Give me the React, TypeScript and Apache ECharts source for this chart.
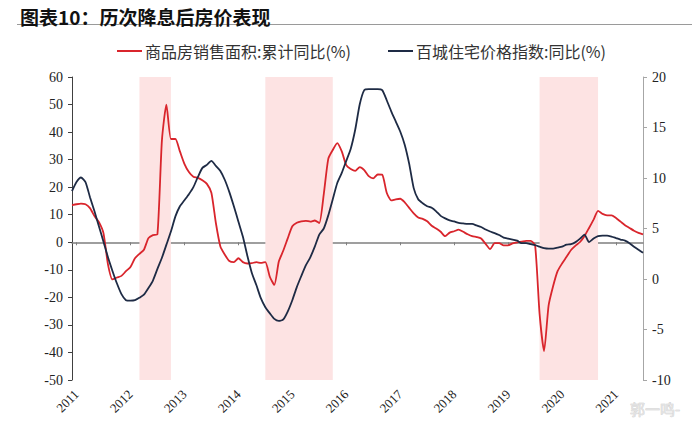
import React, { useEffect, useRef } from "react";
import * as echarts from "echarts";

const TITLE = "图表10：历次降息后房价表现";
const SERIES_NAMES = ["商品房销售面积:累计同比(%)", "百城住宅价格指数:同比(%)"];
const START_YEAR = 2010;
const START_MONTH = 12;

// 商品房销售面积:累计同比(%) — left axis, monthly from 2010-12
const salesArea = [
  13.5, 13.8, 14, 13.8, 12.4, 9.5, 7.3, 3.3, -8, -13.5,
  -12.8, -12.2, -10.5, -9, -5.8, -4.2, -2.7, 1.5, 2.6, 2.9,
  37, 50, 37.5, 37.5, 33, 28.5, 25.5, 23.8, 23.4, 22.5,
  21.2, 18, 7, -1.5, -4.5, -6.8, -7.2, -5.8, -7.2, -7.7,
  -7.6, -7.2, -7.5, -7.2, -12.5, -15.5, -7, -3, 1.5, 5.8,
  7.1, 7.6, 7.8, 7.5, 7.9, 7, 17.5, 30.3, 33.5, 36,
  33, 28, 26.6, 25.9, 27.3, 26.2, 24, 23.2, 24.6, 24.5,
  18, 15.2, 15.6, 15.8, 14.5, 12.5, 10.5, 9, 8.5, 7.6,
  6, 5, 3.8, 2.2, 3.5, 4, 4.6, 3.8, 2.9, 2.2,
  1.9, 1.4, -0.6, -2.5, -0.3, -0.3, -1.1, -1.1, -0.4, 0,
  0.2, 0.5, 0.5, -1.1, -26, -39.5, -23, -16, -10.5, -7.7,
  -5.3, -2.8, -1.2, 0.1, 2.3, 5.2, 8.2, 11.4, 10.3, 9.8,
  9.8, 8.8, 7.5, 6.2, 5.2, 4.2, 3.4, 2.9,
];

// 百城住宅价格指数:同比(%) — right axis, monthly from 2010-12
const priceIndex = [
  8.7, 9.6, 10.05, 9.6, 8.1, 6.7, 5.2, 3.7, 2.15, 0.8,
  -0.45, -1.5, -2.1, -2.15, -2.1, -1.85, -1.55, -0.9, -0.15, 1.0,
  2.1, 3.4, 4.7, 6.2, 7.2, 7.8, 8.4, 9.1, 10.1, 11.0,
  11.3, 11.7, 11.2, 10.7, 9.8, 8.6, 7.2, 5.7, 4.2, 2.3,
  0.6, -0.6, -1.9, -2.8, -3.4, -3.95, -4.15, -4.0, -3.2, -2.1,
  -0.8, 0.3, 1.35, 2.15, 3.2, 4.4, 5.0, 6.3, 7.9, 9.5,
  10.5, 11.7, 12.9, 14.8, 17.3, 18.7, 18.8, 18.8, 18.8, 18.7,
  17.7, 16.6, 15.6, 14.6, 13.3, 11.4, 9.0, 7.9, 7.5, 7.2,
  7.05, 6.7, 6.25, 6.0, 5.8, 5.7, 5.55, 5.5, 5.45, 5.45,
  5.3, 5.15, 4.9, 4.7, 4.55, 4.35, 4.1, 4.0, 3.9, 3.8,
  3.55, 3.55, 3.45, 3.35, 3.2, 3.05, 3.0, 3.0, 3.1, 3.2,
  3.4, 3.45, 3.65, 4.0, 4.4, 3.65, 4.0, 4.25, 4.3, 4.3,
  4.2, 4.05, 3.9, 3.8, 3.55, 3.2, 2.9, 2.6,
];

// rate-cut periods (shaded)
const cutPeriods: [string, string][] = [
  ["2012-03", "2012-10"],
  ["2014-07", "2015-10"],
  ["2019-08", "2020-09"],
];

const leftAxis = { min: -50, max: 60, interval: 10 };
const rightAxis = { min: -10, max: 20, interval: 5 };

const months: string[] = (() => {
  const out: string[] = [];
  let y = START_YEAR;
  let m = START_MONTH;
  for (let i = 0; i < salesArea.length; i++) {
    out.push(`${y}-${String(m).padStart(2, "0")}`);
    m++;
    if (m > 12) {
      m = 1;
      y++;
    }
  }
  return out;
})();

const SERIF = "'Liberation Serif', 'DejaVu Serif', serif";
const CJK = "'Noto Sans CJK SC', sans-serif";
const isJan = (_i: number, v: string) => v.endsWith("-01");

export default function App() {
  const ref = useRef<HTMLDivElement>(null);
  useEffect(() => {
    if (!ref.current) return;
    const chart = echarts.init(ref.current, undefined, { renderer: "svg" });
    chart.setOption({
      animation: false,
      backgroundColor: "#ffffff",
      title: {
        text: TITLE,
        left: 15,
        top: 2,
        textStyle: { fontSize: 19, fontWeight: "bold", color: "#111", fontFamily: CJK },
      },
      legend: [
        {
          data: [SERIES_NAMES[0]],
          left: 112,
          top: 38,
          icon: "rect",
          itemWidth: 25,
          itemHeight: 2,
          textStyle: { fontSize: 16, color: "#333", fontFamily: CJK, padding: [0, 0, 0, -2] },
        },
        {
          data: [SERIES_NAMES[1]],
          left: 383,
          top: 38,
          icon: "rect",
          itemWidth: 25,
          itemHeight: 2,
          textStyle: { fontSize: 16, color: "#333", fontFamily: CJK, padding: [0, 0, 0, -2] },
        },
      ],
      grid: { left: 72, right: 57, top: 77, bottom: 45 },
      xAxis: [
        {
          type: "category",
          data: months,
          boundaryGap: false,
          axisLine: { onZero: true, onZeroAxisIndex: 0, lineStyle: { color: "#7f7f7f", width: 1.5 } },
          axisTick: { show: true, interval: isJan, length: 3, lineStyle: { color: "#7f7f7f" } },
          axisLabel: { show: false },
          splitLine: { show: false },
        },
        {
          type: "category",
          data: months,
          boundaryGap: false,
          position: "bottom",
          axisLine: { show: false, onZero: false },
          axisTick: { show: false },
          splitLine: { show: false },
          axisLabel: {
            interval: isJan,
            formatter: (v: string) => v.slice(0, 4),
            rotate: 45,
            fontFamily: SERIF,
            fontSize: 13,
            color: "#222",
            margin: 12,
          },
        },
      ],
      yAxis: [
        {
          type: "value",
          position: "left",
          ...leftAxis,
          axisLine: { show: true, lineStyle: { color: "#404040", width: 1 } },
          axisTick: { show: true, length: 4, lineStyle: { color: "#404040" } },
          splitLine: { show: false },
          axisLabel: { fontFamily: SERIF, fontSize: 14, color: "#222", margin: 9 },
        },
        {
          type: "value",
          position: "right",
          ...rightAxis,
          axisLine: { show: true, lineStyle: { color: "#a6a6a6", width: 1 } },
          axisTick: { show: true, length: 4, lineStyle: { color: "#a6a6a6" } },
          splitLine: { show: false },
          axisLabel: { fontFamily: SERIF, fontSize: 14, color: "#222", margin: 9 },
        },
      ],
      series: [
        {
          name: SERIES_NAMES[0],
          type: "line",
          xAxisIndex: 0,
          yAxisIndex: 0,
          data: salesArea,
          showSymbol: false,
          smooth: 0.2,
          color: "#d9252c",
          lineStyle: { width: 1.8, color: "#d9252c" },
          z: 3,
          markArea: {
            silent: true,
            itemStyle: { color: "#fde3e3" },
            data: cutPeriods.map(([a, b]) => [{ xAxis: a }, { xAxis: b }]),
          },
        },
        {
          name: SERIES_NAMES[1],
          type: "line",
          xAxisIndex: 0,
          yAxisIndex: 1,
          data: priceIndex,
          showSymbol: false,
          smooth: 0.2,
          color: "#1e2b45",
          lineStyle: { width: 1.8, color: "#1e2b45" },
          z: 4,
        },
      ],
      graphic: [
        {
          type: "line",
          shape: { x1: 17, y1: 24.5, x2: 692, y2: 24.5 },
          style: { stroke: "#9a9a9a", lineWidth: 1 },
        },
        {
          type: "text",
          x: 630,
          y: 401,
          style: {
            text: "郭一鸣-",
            fill: "#e2e2e2",
            stroke: "#c8c8c8",
            lineWidth: 0.5,
            fontSize: 15,
            fontFamily: CJK,
          },
        },
      ],
    });
    return () => chart.dispose();
  }, []);
  return (
    <div
      ref={ref}
      style={{ position: "fixed", left: 0, top: 0, width: 700, height: 425 }}
    />
  );
}
